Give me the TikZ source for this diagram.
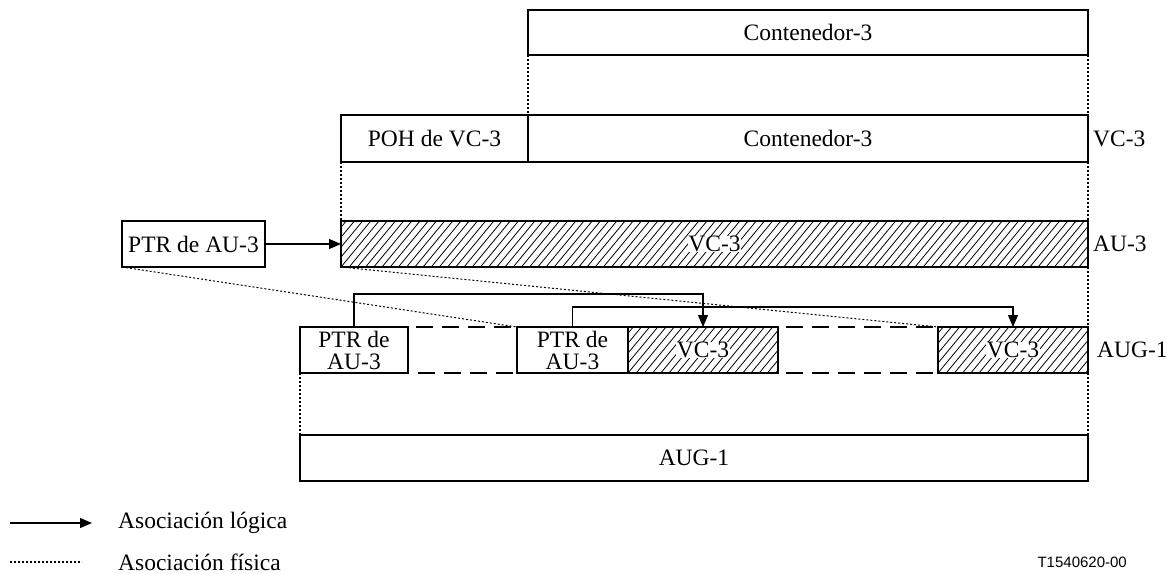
\documentclass[tikz,border=0pt]{standalone}
\usepackage{fontspec}
\setmainfont{Liberation Serif}
\newfontfamily\idfont{Liberation Sans}
\usetikzlibrary{arrows.meta}
\newcommand{\whitebg}[1]{{\setlength{\fboxsep}{0.5pt}\colorbox{white}{#1}}}
\begin{document}
\begin{tikzpicture}[x=1pt,y=-1pt,
  every node/.style={font=\fontsize{23.5}{22}\selectfont},
  box/.style={draw, line width=1.1pt, inner sep=0pt, outer sep=0pt, anchor=north west, align=center},
  hatched/.style={path picture={\foreach \k in {-8,...,100}{\draw[line width=0.8pt] ([xshift=\k*8.2pt]path picture bounding box.south west) -- ++(38pt,46pt);}}},
  phys/.style={line width=1.3pt, dash pattern=on 2pt off 2pt},
  physthin/.style={line width=1pt, dash pattern=on 2pt off 2pt},
  gapline/.style={line width=1.3pt, dash pattern=on 17pt off 9pt},
  logic/.style={line width=1.1pt, -{Triangle[length=12pt,width=10pt]}},
  lbl/.style={anchor=west, inner sep=0pt}
]
\useasboundingbox (0,0) rectangle (1174,573);

% boxes
\node[box, minimum width=560, minimum height=45] (c3top) at (528,10) {Contenedor-3};
\node[box, minimum width=187, minimum height=47] (poh) at (341,115) {POH de VC-3};
\node[box, minimum width=560, minimum height=47] (c3) at (528,115) {Contenedor-3};
\node[lbl] (lvc3) at (1093,139) {VC-3};
\node[box, hatched, minimum width=747, minimum height=46] (au3) at (341,221) {\whitebg{VC-3}};
\node[lbl] (lau3) at (1093,244) {AU-3};
\node[box, minimum width=143, minimum height=46] (ptr) at (122,221) {PTR de AU-3};

\node[box, minimum width=108, minimum height=46] (ptr1) at (300,327) {PTR de\\AU-3};
\node[box, minimum width=111, minimum height=46] (ptr2) at (517,327) {PTR de\\AU-3};
\node[box, hatched, minimum width=150, minimum height=46] (vc1) at (628,327) {\whitebg{VC-3}};
\node[box, hatched, minimum width=150, minimum height=46] (vc2) at (938,327) {\whitebg{VC-3}};
\node[lbl] (laug) at (1097,350) {AUG-1};
\node[box, minimum width=788, minimum height=46] (aug) at (300,435) {AUG-1};

% physical associations
\draw[phys] (c3top.south west) -- (c3.north west);
\draw[phys] (c3top.south east) -- (c3.north east);
\draw[phys] (poh.south west) -- (au3.north west);
\draw[phys] (c3.south east) -- (au3.north east);
\draw[physthin] (ptr.south west) -- (ptr2.north west);
\draw[physthin] (au3.south west) -- (vc2.north west);
\draw[phys] (au3.south east) -- (vc2.north east);
\draw[phys] (ptr1.south west) -- (aug.north west);
\draw[phys] (vc2.south east) -- (aug.north east);

% gaps
\draw[gapline, shorten <=8pt] (ptr1.north east) -- (ptr2.north west);
\draw[gapline, shorten <=10pt] (ptr1.south east) -- (ptr2.south west);
\draw[gapline, shorten <=8pt] (vc1.north east) -- (vc2.north west);
\draw[gapline, shorten <=8pt] (vc1.south east) -- (vc2.south west);

% logical associations
\draw[logic] (ptr.east) -- (au3.west);
\draw[logic] (ptr1.north) -- ++(0,-33) -| (vc1.north);
\draw[logic] (ptr2.north) -- ++(0,-20) -| (vc2.north);

% legend
\coordinate (la1) at (10,523);
\coordinate (la2) at (92,523);
\coordinate (lb1) at (10,562);
\coordinate (lb2) at (82,562);
\draw[logic] (la1) -- (la2);
\draw[phys] (lb1) -- (lb2);
\node[lbl] (tla) at (118,523) {Asociación lógica};
\node[lbl] (tlb) at (118,562) {Asociación física};
\node[anchor=east, inner sep=0pt, font=\idfont\fontsize{15}{16}\selectfont] (fid) at (1127,562) {T1540620-00};
\end{tikzpicture}
\end{document}
